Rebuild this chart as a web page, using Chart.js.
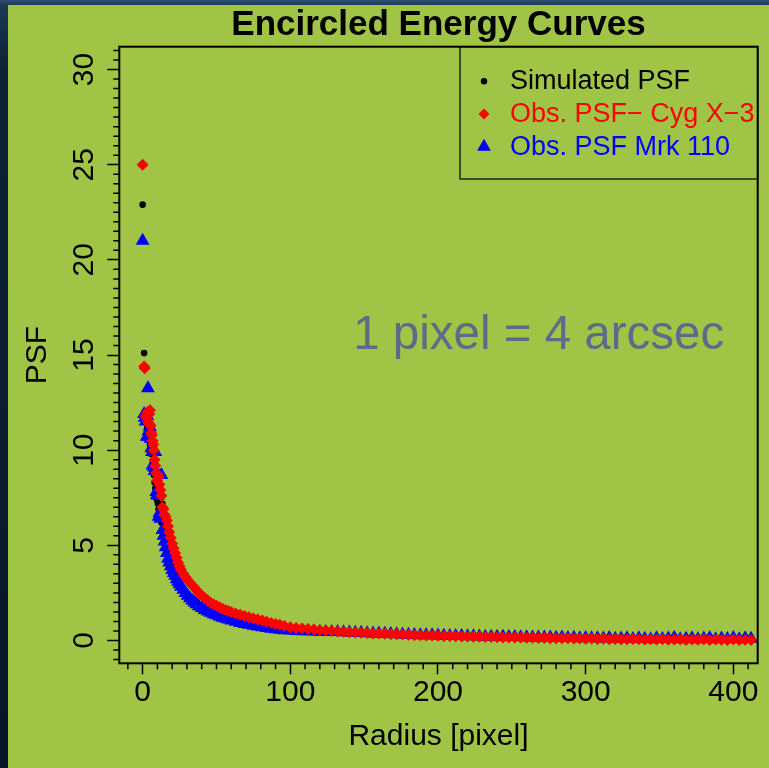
<!DOCTYPE html>
<html>
<head>
<meta charset="utf-8">
<script src="https://cdn.jsdelivr.net/npm/chart.js@4/dist/chart.umd.min.js"></script>
<style>
  html, body { margin: 0; padding: 0; width: 769px; height: 768px; overflow: hidden; }
  body { background: linear-gradient(180deg, #2a4e75 0px, #1b3856 6px, #0d2135 70px, #081726 100%); position: relative; }
  #panel { position: absolute; left: 8px; top: 5px; width: 761px; height: 763px; background: #a0c446; }
  canvas { display: block; }
</style>
</head>
<body>
<div id="panel"><canvas id="chart" width="761" height="763"></canvas></div>
<script>
// Radial distance of each sample, in detector pixels
const radius = [
  0, 1, 1.4, 2, 2.8, 3.2, 3.6, 4.1, 4.5, 5, 5.4, 5.8, 6.3, 6.7, 7.2, 7.6, 8.1, 8.6, 9.2, 9.7,
  10.3, 10.8, 11.4, 12, 12.7, 13.4, 14.1, 14.8, 15.6, 16.4, 17.2, 18, 19, 20,
  21, 22, 23, 24, 25, 26, 27.5, 29, 30.5, 32, 33.5, 35, 36.5, 38, 40, 42, 44, 46, 48, 50,
  52, 54, 56, 58, 60, 63, 66, 69, 72, 75, 78, 81, 84, 87, 90, 93, 96, 100,
  104, 108, 112, 116, 120, 124, 128, 132, 136, 140, 144, 148, 152, 156, 160, 164, 168, 172, 176, 180,
  184, 188, 192, 196, 200, 204, 208, 212, 216, 220, 224, 228, 232, 236, 240, 244, 248, 252, 256, 260,
  264, 268, 272, 276, 280, 284, 288, 292, 296, 300, 304, 308, 312, 316, 320, 324, 328, 332, 336, 340,
  344, 348, 352, 356, 360, 364, 368, 372, 376, 380, 384, 388, 392, 396, 400, 404, 408, 412
];

// Simulated PSF profile
const psfSimulated = [
  22.9, 15.1, 11.8, 11.6, 11.06, 11.2, 10.9, 10.8, 10.5, 10.3,
  10.1, 9.8, 8.96, 9.3, 8.9, 8.7, 8.3, 8.0, 7.7, 7.4,
  7.2, 6.9, 6.7, 6.4, 6.2, 7.18, 5.5, 5.1, 4.8, 4.5, 4.25, 4.0, 3.8, 3.6,
  3.36, 3.25, 3.1, 2.96, 2.84, 2.72, 2.55, 2.4, 2.27, 2.14, 2.03, 1.93, 1.84, 1.75,
  1.65, 1.56, 1.48, 1.41, 1.34, 1.28, 1.22, 1.17, 1.12, 1.07, 1.02,
  0.96, 0.9, 0.85, 0.8, 0.76, 0.72, 0.68, 0.64, 0.61, 0.58, 0.55, 0.53, 0.51,
  0.49, 0.48, 0.47, 0.46, 0.45, 0.44, 0.43, 0.42, 0.41, 0.4,
  0.39, 0.38, 0.37, 0.36, 0.35, 0.34, 0.33, 0.32, 0.31, 0.3,
  0.29, 0.28, 0.27, 0.26, 0.25, 0.25, 0.24, 0.23, 0.22, 0.22,
  0.21, 0.2, 0.2, 0.19, 0.18, 0.18, 0.17, 0.17, 0.16, 0.16,
  0.15, 0.15, 0.14, 0.14, 0.13, 0.13, 0.12, 0.12, 0.11, 0.11,
  0.1, 0.1, 0.1, 0.09, 0.09, 0.09, 0.08, 0.08, 0.08, 0.07,
  0.07, 0.07, 0.06, 0.06, 0.06, 0.06, 0.05, 0.05, 0.05, 0.05,
  0.05, 0.04, 0.04, 0.04, 0.04, 0.04, 0.03, 0.03
];

// Observed PSF, Cyg X-3
const psfCygX3 = [
  25.0, 14.4, 14.3, 11.8, 11.7, 12.0, 11.5, 11.4, 11.9, 12.1,
  11.3, 10.9, 10.8, 10.5, 10.3, 10.0, 9.5, 9.2, 8.8, 8.4,
  8.7, 8.6, 8.2, 7.9, 7.6, 7.0, 6.9, 6.6, 6.5, 6.3, 6.0, 5.7, 5.4, 5.1,
  4.85, 4.6, 4.35, 4.1, 3.9, 3.72, 3.5, 3.33, 3.18, 3.03, 2.9, 2.78, 2.65, 2.5,
  2.36, 2.24, 2.1, 1.98, 1.9, 1.82, 1.75, 1.66, 1.6, 1.55, 1.5,
  1.42, 1.35, 1.28, 1.22, 1.16, 1.1, 1.05, 0.98, 0.92, 0.87, 0.82, 0.76, 0.7,
  0.66, 0.63, 0.6, 0.57, 0.54, 0.52, 0.5, 0.47, 0.46, 0.44,
  0.42, 0.41, 0.39, 0.37, 0.36, 0.35, 0.33, 0.32, 0.31, 0.3,
  0.28, 0.27, 0.26, 0.26, 0.25, 0.24, 0.23, 0.22, 0.21, 0.21,
  0.2, 0.19, 0.18, 0.18, 0.17, 0.16, 0.16, 0.15, 0.15, 0.14,
  0.14, 0.13, 0.13, 0.12, 0.12, 0.11, 0.11, 0.1, 0.1, 0.09,
  0.1, 0.08, 0.09, 0.07, 0.08, 0.07, 0.06, 0.08, 0.06, 0.05,
  0.07, 0.05, 0.06, 0.04, 0.05, 0.06, 0.03, 0.05, 0.04, 0.06,
  0.03, 0.05, 0.04, 0.02, 0.05, 0.03, 0.04, 0.03
];

// Observed PSF, Mrk 110
const psfMrk110 = [
  21.0, 11.9, 11.7, 11.5, 10.7, 11.8, 13.25, 11.0, 10.7, 11.2,
  10.6, 10.1, 9.9, 9.2, 10.0, 9.1, 8.9, 9.9, 7.8, 7.65,
  7.6, 6.5, 6.7, 6.4, 8.7, 5.8, 5.5, 5.2, 4.9, 4.6, 4.3, 4.1, 3.9, 3.7,
  3.55, 3.4, 3.22, 3.08, 2.95, 2.82, 2.66, 2.5, 2.35, 2.22, 2.1, 2.0, 1.9, 1.8,
  1.7, 1.6, 1.52, 1.45, 1.38, 1.32, 1.26, 1.2, 1.15, 1.1, 1.05,
  0.98, 0.92, 0.87, 0.82, 0.77, 0.73, 0.69, 0.65, 0.62, 0.59, 0.56, 0.54, 0.52,
  0.5, 0.49, 0.48, 0.47, 0.46, 0.45, 0.45, 0.44, 0.43, 0.42,
  0.41, 0.4, 0.38, 0.37, 0.36, 0.35, 0.34, 0.32, 0.31, 0.3,
  0.29, 0.28, 0.27, 0.27, 0.26, 0.25, 0.24, 0.24, 0.23, 0.22,
  0.22, 0.21, 0.2, 0.2, 0.19, 0.19, 0.18, 0.18, 0.17, 0.17,
  0.16, 0.16, 0.15, 0.15, 0.14, 0.15, 0.13, 0.14, 0.12, 0.13,
  0.11, 0.12, 0.1, 0.13, 0.09, 0.1, 0.12, 0.08, 0.11, 0.09,
  0.07, 0.12, 0.08, 0.1, 0.14, 0.07, 0.09, 0.12, 0.06, 0.1,
  0.13, 0.07, 0.1, 0.08, 0.13, 0.06, 0.11, 0.09
];

const seriesLabels = ['Simulated PSF', 'Obs. PSF\u2212 Cyg X\u22123', 'Obs. PSF Mrk 110'];
const seriesColors = ['#000000', '#ff0000', '#0000ff'];
const seriesStyles = ['circle', 'rectRot', 'triangle'];
const seriesRadius = [3.3, 6, 8];

const xMajorTicks = [0, 100, 200, 300, 400];
const yMajorTicks = [0, 5, 10, 15, 20, 25, 30];
const xMinorStep = 10, yMinorStep = 0.5;

const FONT = '"Liberation Sans", Arial, Helvetica, sans-serif';

const toPoints = vals => radius.map((r, i) => ({ x: r, y: vals[i] }));

function makeSet(i, vals, order) {
  return {
    label: seriesLabels[i],
    data: toPoints(vals),
    showLine: false,
    pointStyle: seriesStyles[i],
    pointRadius: seriesRadius[i],
    pointHoverRadius: seriesRadius[i],
    pointBackgroundColor: seriesColors[i],
    pointBorderWidth: 0,
    order: order
  };
}

function drawMarker(ctx, style, x, y, r, color) {
  ctx.fillStyle = color;
  ctx.beginPath();
  if (style === 'circle') {
    ctx.arc(x, y, r, 0, Math.PI * 2);
  } else if (style === 'rectRot') {
    ctx.moveTo(x - r, y); ctx.lineTo(x, y - r); ctx.lineTo(x + r, y); ctx.lineTo(x, y + r);
  } else {
    ctx.moveTo(x, y - r); ctx.lineTo(x + 0.866 * r, y + 0.5 * r); ctx.lineTo(x - 0.866 * r, y + 0.5 * r);
  }
  ctx.closePath();
  ctx.fill();
}

// Minor ticks, plot frame, legend box and the scale note
const decorations = {
  id: 'decorations',
  afterDraw(chart) {
    const { ctx, chartArea: a, scales: { x, y } } = chart;
    ctx.save();
    ctx.strokeStyle = '#000';
    ctx.lineWidth = 1.5;
    ctx.beginPath();
    for (let v = Math.ceil(x.min / xMinorStep) * xMinorStep; v <= x.max; v += xMinorStep) {
      if (xMajorTicks.includes(v)) continue;
      const px = x.getPixelForValue(v);
      ctx.moveTo(px, a.bottom); ctx.lineTo(px, a.bottom + 6);
    }
    for (let v = Math.ceil(y.min / yMinorStep) * yMinorStep; v <= y.max; v += yMinorStep) {
      if (yMajorTicks.includes(v)) continue;
      const py = y.getPixelForValue(v);
      ctx.moveTo(a.left, py); ctx.lineTo(a.left - 6, py);
    }
    ctx.stroke();

    // plot frame
    ctx.lineWidth = 2;
    ctx.strokeRect(a.left, a.top, a.right - a.left, a.bottom - a.top);

    // legend
    const lw = 297.7, lh = 132.3;
    const lx = a.right - lw, ly = a.top;
    ctx.lineWidth = 1.2;
    ctx.strokeRect(lx, ly, lw, lh);
    ctx.font = '27px ' + FONT;
    ctx.textAlign = 'left';
    ctx.textBaseline = 'alphabetic';
    const baselines = [42.6, 75.2, 108];
    const legendRadius = [3.2, 5.5, 8];
    for (let i = 0; i < 3; i++) {
      const by = ly + baselines[i];
      drawMarker(ctx, seriesStyles[i], lx + 24, by - 8, legendRadius[i], seriesColors[i]);
      ctx.fillStyle = seriesColors[i];
      ctx.fillText(seriesLabels[i], lx + 50, by);
    }

    // scale note
    ctx.fillStyle = '#5d6b8a';
    ctx.font = '47.5px ' + FONT;
    ctx.fillText('1 pixel = 4 arcsec', x.getPixelForValue(142.6), y.getPixelForValue(15.33));
    ctx.restore();
  }
};

new Chart(document.getElementById('chart'), {
  type: 'scatter',
  data: {
    datasets: [
      makeSet(0, psfSimulated, 3),
      makeSet(1, psfCygX3, 1),
      makeSet(2, psfMrk110, 2)
    ]
  },
  options: {
    responsive: false,
    animation: false,
    devicePixelRatio: 1,
    layout: { padding: { left: 0, right: 11.3, top: 0, bottom: 0 } },
    plugins: {
      legend: { display: false },
      tooltip: { enabled: false },
      title: {
        display: true,
        text: 'Encircled Energy Curves',
        fullSize: false,
        color: '#000',
        font: { family: FONT, size: 35, weight: 'bold', lineHeight: 1 },
        padding: { top: 2.4, bottom: 4.3 }
      }
    },
    scales: {
      x: {
        type: 'linear',
        position: 'bottom',
        min: -15.8,
        max: 416.5,
        afterFit: s => { s.height = 104.7; },
        border: { display: false },
        grid: { drawOnChartArea: false, drawTicks: true, tickLength: 11, tickWidth: 1.5, tickColor: '#000' },
        ticks: {
          stepSize: 100, includeBounds: false, autoSkip: false, maxRotation: 0,
          padding: 0.5, color: '#000', font: { family: FONT, size: 30 }
        },
        title: {
          display: true, text: 'Radius [pixel]', color: '#000',
          font: { family: FONT, size: 30 }, padding: { top: 0, bottom: 13.4 }
        }
      },
      y: {
        type: 'linear',
        min: -1.2,
        max: 31.2,
        afterFit: s => { s.width = 111.3; },
        border: { display: false },
        grid: { drawOnChartArea: false, drawTicks: true, tickLength: 12, tickWidth: 1.5, tickColor: '#000' },
        ticks: {
          stepSize: 5, includeBounds: false, autoSkip: false,
          minRotation: 90, maxRotation: 90, crossAlign: 'center',
          padding: 6.3, color: '#000', font: { family: FONT, size: 30 }
        },
        title: {
          display: true, text: 'PSF', color: '#000',
          font: { family: FONT, size: 30 }, padding: { top: 12, bottom: 0 }
        }
      }
    }
  },
  plugins: [decorations]
});
</script>
</body>
</html>
